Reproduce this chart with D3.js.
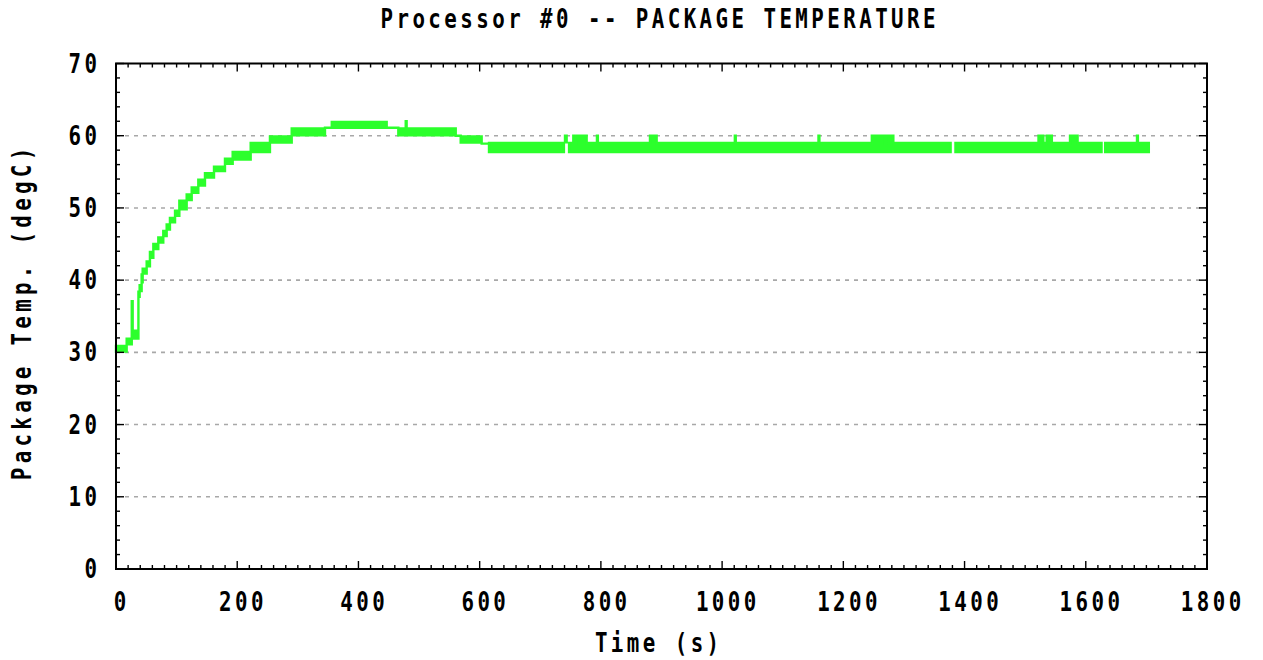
<!DOCTYPE html>
<html><head><meta charset="utf-8">
<script src="https://cdn.jsdelivr.net/npm/d3@7"></script>
<style>html,body{margin:0;padding:0;background:#fff}svg{display:block}</style>
</head><body>
<svg id="chart" width="1263" height="660"></svg>
<script>
// ---------------- data ----------------
const chartTitle = "Processor #0 -- PACKAGE TEMPERATURE";
const xAxisLabel = "Time (s)";
const yAxisLabel = "Package Temp. (degC)";
const xTickValues = [0, 200, 400, 600, 800, 1000, 1200, 1400, 1600, 1800];
const yTickValues = [0, 10, 20, 30, 40, 50, 60, 70];
const gridValues = [10, 20, 30, 40, 50, 60];

// Temperature trace, read as steps: start time (s) with the low / high
// reading seen in that step (the trace flickers between them). null = no trace.
const stepTime = [0, 17.6, 26, 27.5, 37, 39, 42.3, 44, 50.6, 56, 61.6, 69.8, 78, 83.6, 89, 97.4,
  104.5, 116.6, 124.9, 135.8, 146.8, 161.7, 179.8, 192.5, 222.2, 254, 289.9, 344.8, 356, 446.6,
  465.8, 478, 479.5, 560.5, 568.7, 603.3, 615.4, 739, 740.8, 743.5, 747.5, 754.5, 756, 760, 776.5,
  793.5, 795, 881, 892, 1021, 1022.5, 1159, 1160.5, 1247, 1268.5, 1271.5, 1282.5, 1377, 1385,
  1522, 1530, 1535.5, 1544, 1574, 1586.5, 1626, 1632, 1684.5, 1686, 1704];
const stepLow = [30.1, 31.1, 31.9, 31.9, 37.7, 38.5, 39.7, 40.9, 41.9, 43.1, 44.3, 45.2, 46.1, 47.0, 48.0, 48.9,
  49.8, 51.1, 52.1, 53.1, 54.2, 55.1, 56.1, 56.7, 57.75, 59.05, 60.05, 61.1, 61.1, 61.1,
  60.05, 60.05, 60.05, 60.0, 59.05, 58.9, 57.75, null, 59.1, null, 57.75, 57.75, 57.75, 57.75, 57.75,
  57.75, 57.75, 57.75, 57.75, 57.75, 57.75, 57.75, 57.75, 57.75, 57.75, 57.75, 57.75, null, 57.75,
  57.75, 57.75, 57.75, 57.75, 57.75, 57.75, null, 57.75, 57.75, 57.75, null];
const stepHigh = [30.9, 31.9, 37.1, 33.0, 38.4, 39.3, 40.8, 41.6, 42.6, 43.9, 45.0, 45.9, 46.8, 47.7, 48.6, 49.6,
  51.0, 51.85, 52.85, 53.9, 54.8, 55.7, 56.8, 57.75, 59.0, 59.9, 61.0, 61.1, 61.9, 61.1,
  61.0, 62.0, 61.0, 60.0, 59.9, 58.9, 59.0, null, 60.0, null, 59.0, 60.0, 59.0, 60.0, 59.0,
  60.0, 59.0, 60.0, 59.0, 60.0, 59.0, 60.0, 59.0, 60.0, 59.0, 60.0, 59.0, null, 59.0,
  60.0, 59.0, 60.0, 59.0, 60.0, 59.0, null, 59.0, 60.0, 59.0, null];

// ---------------- layout ----------------
const W = 1263, H = 660;
const plot = {left: 116, right: 1207, top: 63.5, bottom: 569};
const FONT = "'DejaVu Sans Mono', 'Liberation Mono', monospace";
const FS = 26, SX = 0.8, LS = 4.3;
const green = "#2cff2c";

const svg = d3.select("#chart");
svg.append("rect").attr("width", W).attr("height", H).attr("fill", "#fff");

const x = d3.scaleLinear().domain([0, 1800]).range([plot.left, plot.right]);
const y = d3.scaleLinear().domain([0, 70]).range([plot.bottom, plot.top]);

function label(px, py, s, anchor, rot, ls) {
  const sp = (ls === undefined) ? LS : ls;
  let shift = 0;
  if (anchor === "end") shift = sp * SX;
  else if (anchor === "middle") shift = sp * SX / 2;
  const g = svg.append("g").attr("transform",
    `translate(${px},${py}) rotate(${rot || 0}) translate(${shift},0) scale(${SX},1)`);
  g.append("text").attr("x", 0).attr("y", 0)
    .attr("text-anchor", anchor)
    .attr("font-family", FONT).attr("font-weight", "bold").attr("font-size", FS)
    .attr("letter-spacing", sp).attr("fill", "#000")
    .text(s);
}

// grid
svg.append("g").selectAll("line").data(gridValues).join("line")
  .attr("x1", plot.left).attr("x2", plot.right)
  .attr("y1", d => y(d)).attr("y2", d => y(d))
  .attr("stroke", "#a8a8a8").attr("stroke-width", 1.6).attr("stroke-dasharray", "4,5");

// trace
const pts = [];
for (let i = 0; i < stepTime.length - 1; i++) {
  if (stepLow[i] === null) { pts.push({gap: true}); continue; }
  pts.push({t: stepTime[i], lo: stepLow[i], hi: stepHigh[i]});
  pts.push({t: stepTime[i + 1], lo: stepLow[i], hi: stepHigh[i]});
}
const area = d3.area().defined(d => !d.gap)
  .x(d => x(d.t)).y0(d => y(d.lo)).y1(d => y(d.hi));
svg.append("path").attr("d", area(pts))
  .attr("fill", green).attr("stroke", green).attr("stroke-width", 2.4)
  .attr("stroke-linejoin", "miter");

// ticks (gnuplot style, inward on all four sides)
const tg = svg.append("g").attr("stroke", "#000").attr("stroke-width", 1.4);
const xMinor = d3.range(0, 1801, 20);
const yMinor = d3.range(0, 71, 2);
xMinor.forEach(v => {
  const len = (v % 200 === 0) ? 8 : 4;
  tg.append("line").attr("x1", x(v)).attr("x2", x(v)).attr("y1", plot.bottom).attr("y2", plot.bottom - len);
  tg.append("line").attr("x1", x(v)).attr("x2", x(v)).attr("y1", plot.top).attr("y2", plot.top + len);
});
yMinor.forEach(v => {
  const len = (v % 10 === 0) ? 8 : 4;
  tg.append("line").attr("y1", y(v)).attr("y2", y(v)).attr("x1", plot.left).attr("x2", plot.left + len);
  tg.append("line").attr("y1", y(v)).attr("y2", y(v)).attr("x1", plot.right).attr("x2", plot.right - len);
});

// border
svg.append("rect").attr("x", plot.left).attr("y", plot.top)
  .attr("width", plot.right - plot.left).attr("height", plot.bottom - plot.top)
  .attr("fill", "none").attr("stroke", "#000").attr("stroke-width", 2);

// tick labels
xTickValues.forEach(v => label(x(v) + 4, 611, String(v), "middle"));
yTickValues.forEach(v => label(97, y(v) + 9, String(v), "end"));

// titles
label(658, 28, chartTitle, "middle");
label(657, 652, xAxisLabel, "middle");
label(31, 314, yAxisLabel, "middle", -90, 5.4);
</script>
</body></html>
